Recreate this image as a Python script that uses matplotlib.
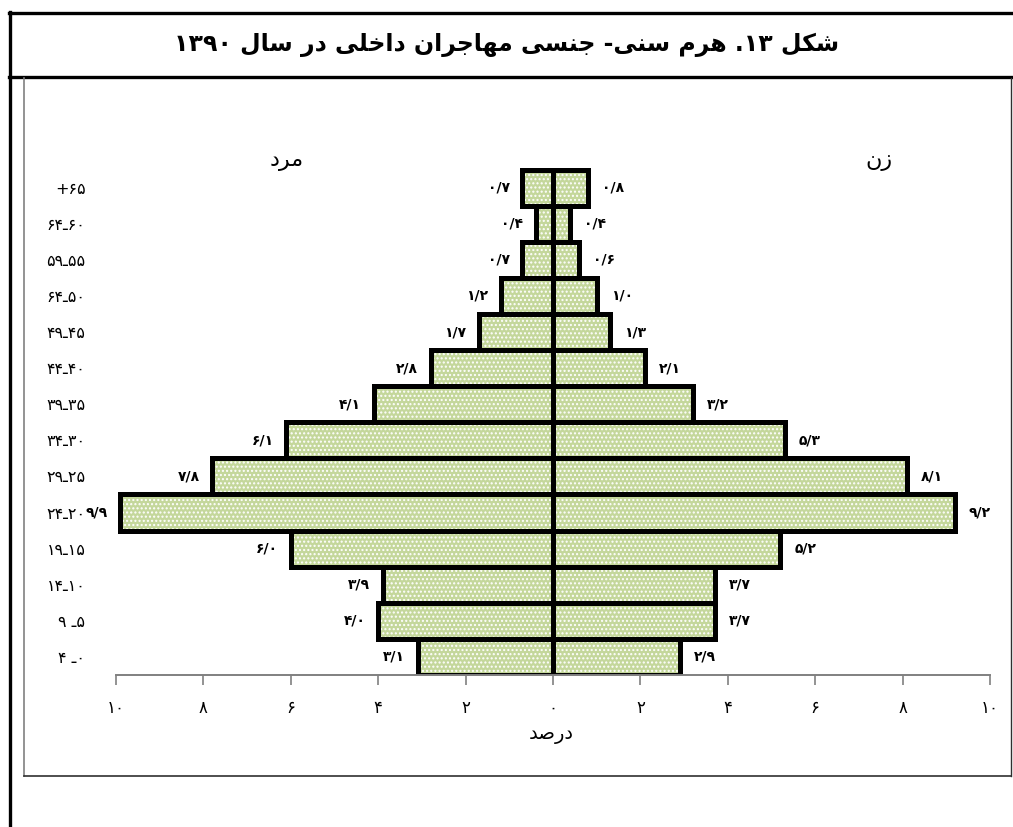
import re
import numpy as np
import matplotlib
matplotlib.use("Agg")
import matplotlib.pyplot as plt
from matplotlib.lines import Line2D

plt.rcParams['font.family'] = ['DejaVu Sans']

# data, top row first (65+ down to 0-4)
age_groups = ['+۶۵', '۶۴ـ۶۰', '۵۹ـ۵۵', '۶۴ـ۵۰', '۴۹ـ۴۵', '۴۴ـ۴۰', '۳۹ـ۳۵',
              '۳۴ـ۳۰', '۲۹ـ۲۵', '۲۴ـ۲۰', '۱۹ـ۱۵', '۱۴ـ۱۰', '۹ ـ۵', '۴ ـ۰']
male = [0.7, 0.4, 0.7, 1.2, 1.7, 2.8, 4.1, 6.1, 7.8, 9.9, 6.0, 3.9, 4.0, 3.1]
female = [0.8, 0.4, 0.6, 1.0, 1.3, 2.1, 3.2, 5.3, 8.1, 9.2, 5.2, 3.7, 3.7, 2.9]
x_ticks = [-10, -8, -6, -4, -2, 0, 2, 4, 6, 8, 10]

title = 'شکل ۱۳. هرم سنی- جنسی مهاجران داخلی در سال ۱۳۹۰'
male_label = 'مرد'
female_label = 'زن'
x_label = 'درصد'

# arabic presentation forms: isolated, final, initial, medial
FORMS = {
    'ا': ('\uFE8D', '\uFE8E', None, None),
    'د': ('\uFEA9', '\uFEAA', None, None),
    'ر': ('\uFEAD', '\uFEAE', None, None),
    'ز': ('\uFEAF', '\uFEB0', None, None),
    'ج': ('\uFE9D', '\uFE9E', '\uFE9F', '\uFEA0'),
    'خ': ('\uFEA5', '\uFEA6', '\uFEA7', '\uFEA8'),
    'س': ('\uFEB1', '\uFEB2', '\uFEB3', '\uFEB4'),
    'ش': ('\uFEB5', '\uFEB6', '\uFEB7', '\uFEB8'),
    'ص': ('\uFEB9', '\uFEBA', '\uFEBB', '\uFEBC'),
    'ک': ('\uFB8E', '\uFB8F', '\uFB90', '\uFB91'),
    'ل': ('\uFEDD', '\uFEDE', '\uFEDF', '\uFEE0'),
    'م': ('\uFEE1', '\uFEE2', '\uFEE3', '\uFEE4'),
    'ن': ('\uFEE5', '\uFEE6', '\uFEE7', '\uFEE8'),
    'ه': ('\uFEE9', '\uFEEA', '\uFEEB', '\uFEEC'),
    'ی': ('\uFBFC', '\uFBFD', '\uFBFE', '\uFBFF'),
}


def shape(text):
    out = []
    for i, ch in enumerate(text):
        if ch not in FORMS:
            out.append(ch)
            continue
        prev = text[i - 1] if i > 0 else ''
        nxt = text[i + 1] if i + 1 < len(text) else ''
        iso, fin, ini, med = FORMS[ch]
        join_prev = prev in FORMS and FORMS[prev][2] is not None
        join_next = nxt in FORMS and ini is not None
        if join_prev and join_next:
            out.append(med)
        elif join_prev:
            out.append(fin)
        elif join_next:
            out.append(ini)
        else:
            out.append(iso)
    visual = ''.join(out)[::-1]
    return re.sub('[۰-۹]+', lambda m: m.group(0)[::-1], visual)


FA_DIGITS = str.maketrans('0123456789.', '۰۱۲۳۴۵۶۷۸۹/')


def fa_num(v, fmt='{:.1f}'):
    return fmt.format(v).translate(FA_DIGITS)


W, H = 1013, 827
fig = plt.figure(figsize=(W / 100, H / 100), dpi=100)


def hline(x0, x1, y, **kw):
    fig.add_artist(Line2D([x0 / W, x1 / W], [1 - y / H, 1 - y / H], transform=fig.transFigure, **kw))


def vline(x, y0, y1, **kw):
    fig.add_artist(Line2D([x / W, x / W], [1 - y0 / H, 1 - y1 / H], transform=fig.transFigure, **kw))


# frame like a table cell
hline(9, W, 13, color='black', lw=2.4)
hline(9, W, 77, color='black', lw=2.4)
vline(9.5, 12, H, color='black', lw=2.4)
vline(24, 78, 776, color='#808080', lw=1.2)
vline(1011, 78, 776, color='#303030', lw=1.0)
hline(24, 1011, 776, color='#303030', lw=1.2)

fig.text(0.5, 1 - 45 / H, shape(title), ha='center', va='center', fontsize=17, fontweight='bold')

ax = fig.add_axes([116 / W, (H - 675) / H, (990 - 116) / W, (675 - 151.5) / H])

y = np.arange(len(age_groups))[::-1]
male_arr = np.array(male)
female_arr = np.array(female)
green = '#c4d79b'

for vals in (-male_arr, female_arr):
    ax.barh(y, vals, height=1.0, color=green, edgecolor='white', linewidth=0, hatch='....')
    ax.barh(y, vals, height=1.0, facecolor='none', edgecolor='black', linewidth=3.6)

for yi, m, f in zip(y, male, female):
    ax.annotate(fa_num(m), (-m, yi), xytext=(-9, 0), textcoords='offset points',
                ha='right', va='center', fontsize=10, fontweight='bold')
    ax.annotate(fa_num(f), (f, yi), xytext=(10, 0), textcoords='offset points',
                ha='left', va='center', fontsize=10, fontweight='bold')

ax.set_xlim(-10, 10)
ax.set_ylim(-0.5, 14.0)
ax.set_xticks(x_ticks, [fa_num(abs(t), '{:d}') for t in x_ticks], fontsize=12)
ax.set_yticks(y, age_groups, fontsize=11.5)
ax.tick_params(axis='y', length=0, pad=22)
ax.tick_params(axis='x', length=7, width=1.2, color='#808080', pad=10, direction='out')

for side in ['left', 'right', 'top']:
    ax.spines[side].set_visible(False)
ax.spines['bottom'].set_color('#808080')
ax.spines['bottom'].set_linewidth(1.4)

ax.text(-6.1, 13.75, shape(male_label), ha='center', va='center', fontsize=16)
ax.text(7.45, 13.75, shape(female_label), ha='center', va='center', fontsize=16)
fig.text(551 / W, 1 - 735 / H, shape(x_label), ha='center', va='center', fontsize=14)

plt.savefig('out.png', dpi=100)
